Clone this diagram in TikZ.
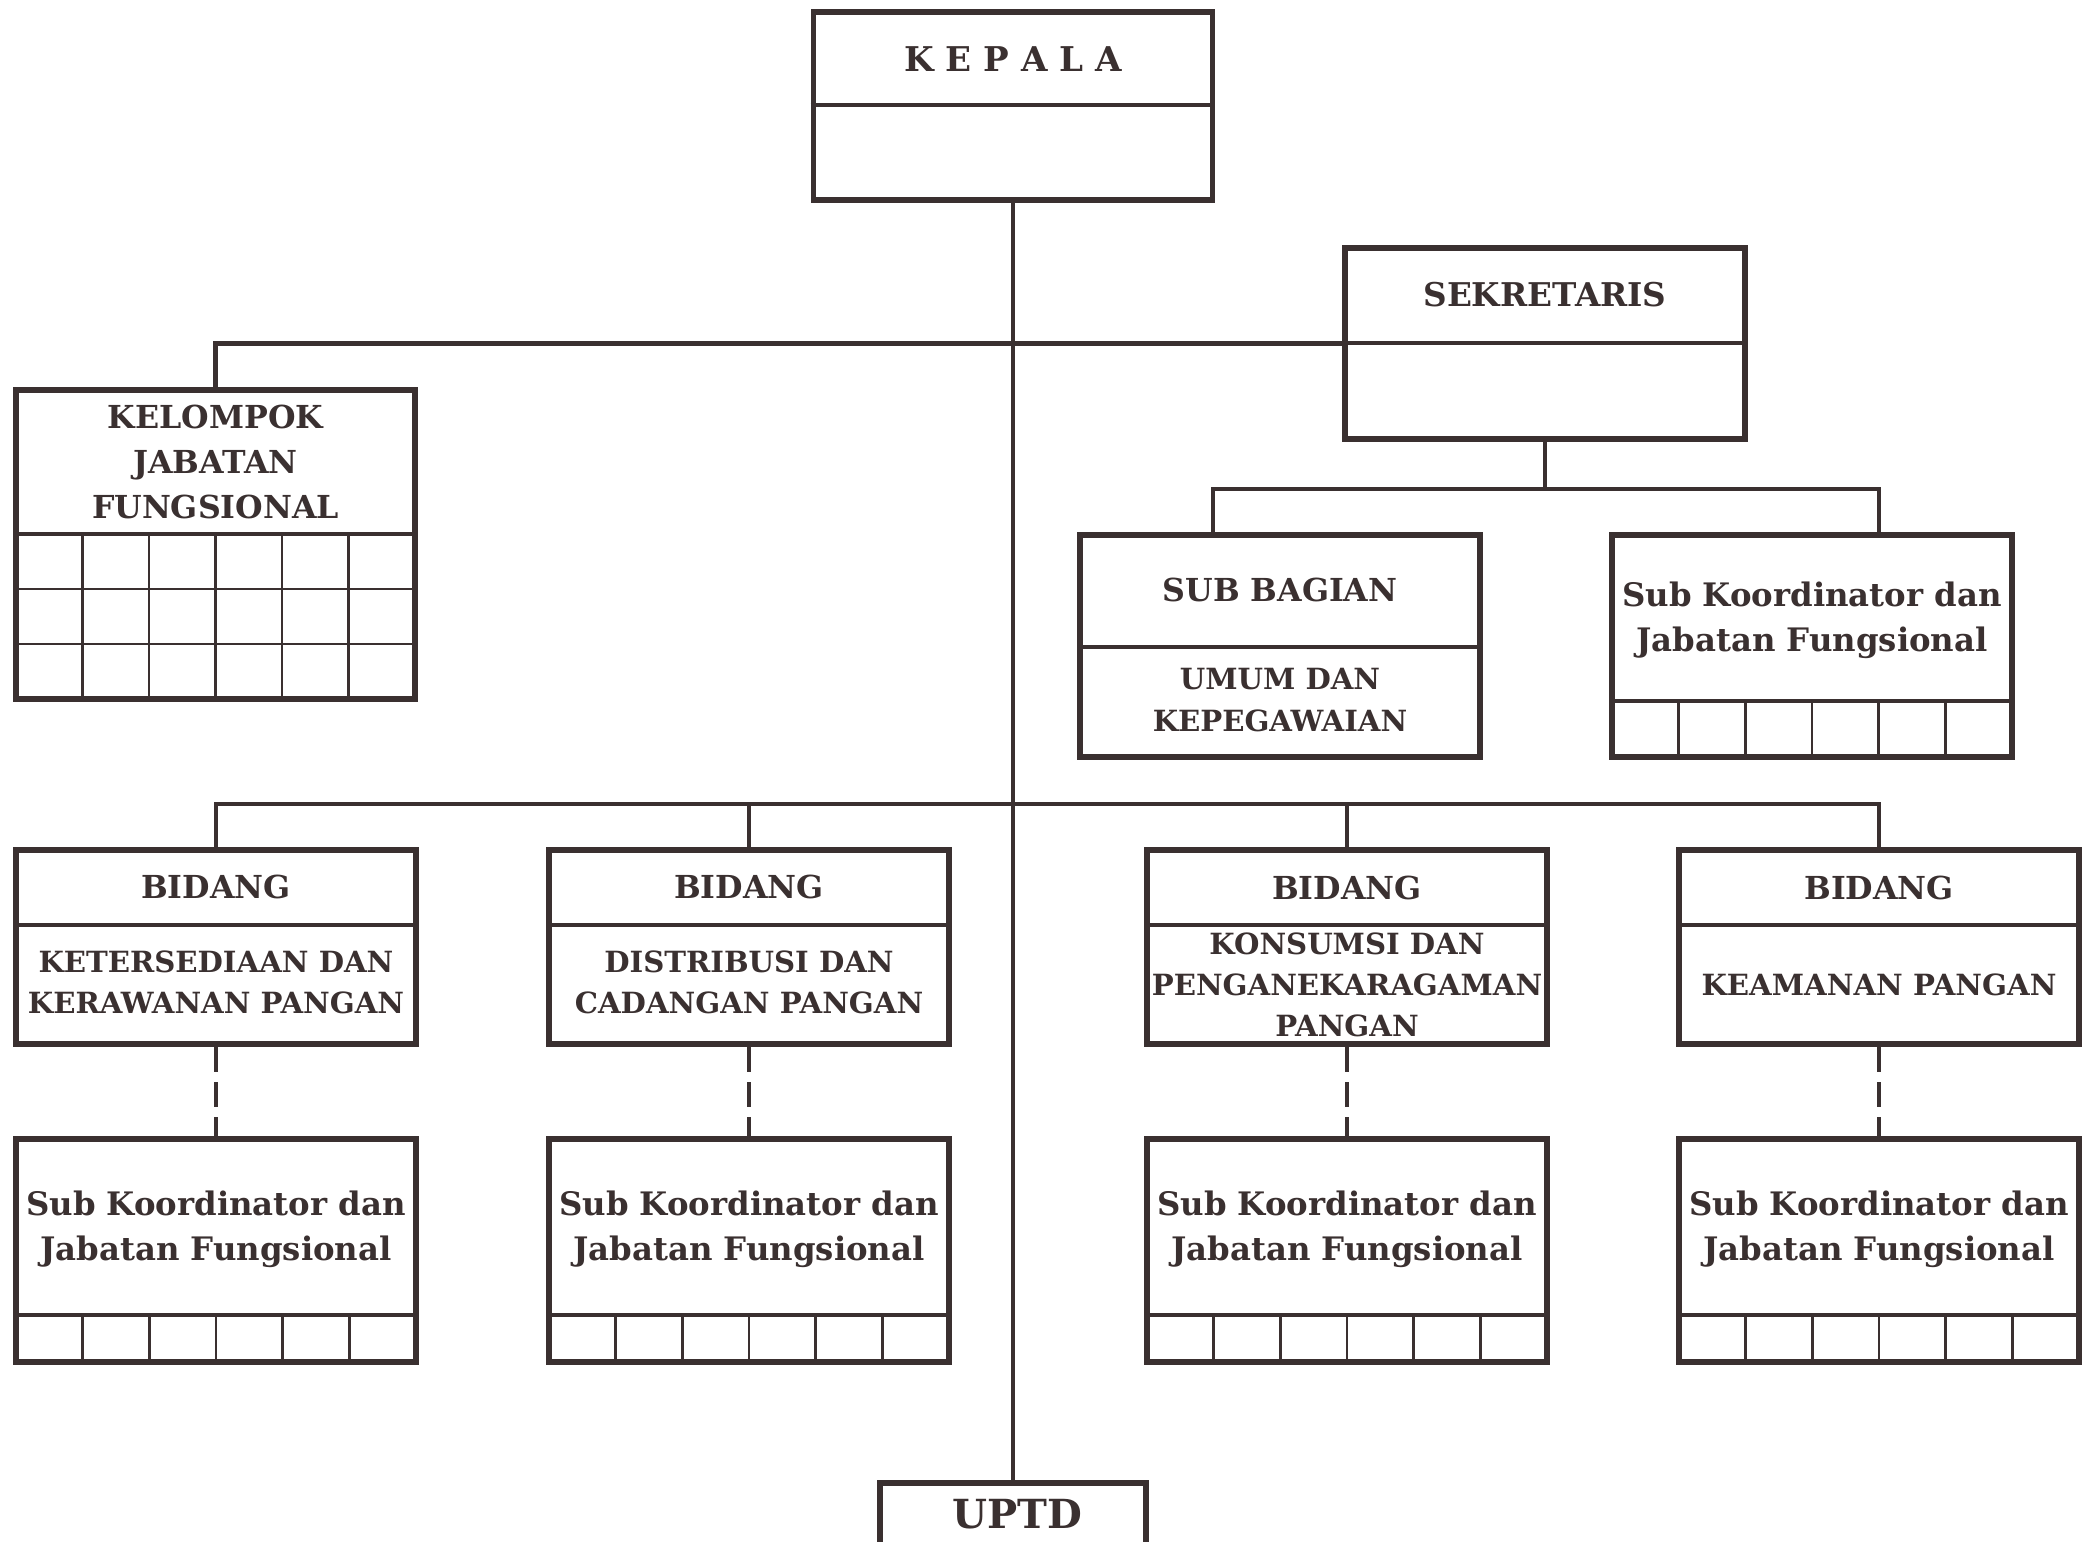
\documentclass[tikz,border=0pt]{standalone}
\usepackage{fontspec}
\setmainfont{DejaVu Serif}
\definecolor{ink}{HTML}{3A3030}

\begin{document}
\begin{tikzpicture}[x=0.01cm,y=-0.01cm]
    \tikzstyle{box}=[draw=ink, line width=1.6pt, minimum width=4cm, inner sep=0pt]
    \tikzstyle{conn}=[draw=ink, line width=1.4pt]
    \tikzstyle{divline}=[draw=ink, line width=1pt]
    \tikzstyle{cell}=[draw=ink, line width=0.7pt]
    \tikzstyle{head}=[text=ink, align=center, font=\bfseries\fontsize{9.0}{12.8}\selectfont]
    \tikzstyle{desc}=[text=ink, align=center, font=\bfseries\fontsize{8.3}{11.7}\selectfont]
    \tikzstyle{mixed}=[text=ink, align=center, font=\bfseries\fontsize{9.2}{12.8}\selectfont]

    \clip (0,0) rectangle (2093,1541);
    \fill[white] (0,0) rectangle (2093,1541);

    % boxes
    \node[box, minimum width=3.99cm, minimum height=1.88cm] (kepala) at (1013,106) {};
    \node[box, minimum height=1.91cm] (sek) at (1545,343.5) {};
    \node[box, minimum width=3.99cm, minimum height=3.09cm] (kjf) at (215.5,544.5) {};
    \node[box, minimum height=2.22cm] (subbag) at (1280,646) {};
    \node[box, minimum height=2.22cm] (sksek) at (1812,646) {};

    \node[box, minimum height=1.94cm] (bid1) at (216,947) {};
    \node[box, minimum height=1.94cm] (bid2) at (749,947) {};
    \node[box, minimum height=1.94cm] (bid3) at (1347,947) {};
    \node[box, minimum height=1.94cm] (bid4) at (1879,947) {};

    \node[box, minimum height=2.23cm] (sk1) at (216,1250.5) {};
    \node[box, minimum height=2.23cm] (sk2) at (749,1250.5) {};
    \node[box, minimum height=2.23cm] (sk3) at (1347,1250.5) {};
    \node[box, minimum height=2.23cm] (sk4) at (1879,1250.5) {};

    \node[box, minimum width=2.66cm, minimum height=0.9cm] (uptd) at (1013,1528) {};

    % dividers
    \draw[divline] (kepala.west |- 0,105) -- (kepala.east |- 0,105);
    \draw[divline] (sek.west |- 0,343) -- (sek.east |- 0,343);
    \draw[divline] (subbag.west |- 0,647) -- (subbag.east |- 0,647);
    \draw[divline] (sksek.west |- 0,701) -- (sksek.east |- 0,701);
    \draw[divline] (kjf.west |- 0,534) -- (kjf.east |- 0,534);
    \draw[cell] (kjf.west |- 0,589) -- (kjf.east |- 0,589);
    \draw[cell] (kjf.west |- 0,644) -- (kjf.east |- 0,644);
    \foreach \b in {bid1,bid2,bid3,bid4}
      \draw[divline] (\b.west |- 0,925) -- (\b.east |- 0,925);
    \foreach \b in {sk1,sk2,sk3,sk4}
      \draw[divline] (\b.west |- 0,1315) -- (\b.east |- 0,1315);

    % cells
    \foreach \i in {1,...,5} {
      \draw[cell] (16+\i*66.5,534) -- (16+\i*66.5,699);
      \draw[cell] (1612+\i*66.67,701) -- (1612+\i*66.67,757);
      \foreach \cx in {216,749,1347,1879}
        \draw[cell] (\cx-200+\i*66.67,1315) -- (\cx-200+\i*66.67,1362);
    }

    % texts
    \node[head, font=\bfseries\fontsize{9.7}{12}\selectfont] (kepalatxt) at (1013,59) {K E P A L A};
    \node[head, font=\bfseries\fontsize{9.3}{12}\selectfont] (sektxt) at (1545,295) {SEKRETARIS};
    \node[head] (kjftxt) at (215.5,462) {KELOMPOK\\JABATAN\\FUNGSIONAL};
    \node[head] (subbaghead) at (1280,590) {SUB BAGIAN};
    \node[desc] (subbagtxt) at (1280,700) {UMUM DAN\\KEPEGAWAIAN};
    \node[mixed] (sksektxt) at (1812,620) {Sub Koordinator dan\\Jabatan Fungsional};

    \node[head] (bid1head) at (216,887) {BIDANG};
    \node[head] (bid2head) at (749,887) {BIDANG};
    \node[head] (bid3head) at (1347,888) {BIDANG};
    \node[head] (bid4head) at (1879,888) {BIDANG};
    \node[desc] (bid1txt) at (216,982) {KETERSEDIAAN DAN\\KERAWANAN PANGAN};
    \node[desc] (bid2txt) at (749,982) {DISTRIBUSI DAN\\CADANGAN PANGAN};
    \node[desc] (bid3txt) at (1347,985) {KONSUMSI DAN\\PENGANEKARAGAMAN\\PANGAN};
    \node[desc] (bid4txt) at (1879,985) {KEAMANAN PANGAN};

    \node[mixed] (sk1txt) at (216,1229) {Sub Koordinator dan\\Jabatan Fungsional};
    \node[mixed] (sk2txt) at (749,1229) {Sub Koordinator dan\\Jabatan Fungsional};
    \node[mixed] (sk3txt) at (1347,1229) {Sub Koordinator dan\\Jabatan Fungsional};
    \node[mixed] (sk4txt) at (1879,1229) {Sub Koordinator dan\\Jabatan Fungsional};

    \node[head, font=\bfseries\fontsize{11.4}{14}\selectfont] (uptdtxt) at (1017,1514) {UPTD};

    % connectors
    \coordinate (sekfork) at (1545,489);
    \coordinate (midbus) at (1013,804);
    \draw[conn] (kepala) -- (uptd);
    \draw[conn] (kjf.north) |- (sek.west);
    \draw[conn] (sek.south) -- (sekfork);
    \draw[conn] (subbag.north -| 1213,0) |- (sekfork) -| (sksek.north -| 1879,0);
    \draw[conn] (bid1.north) |- (midbus) -| (bid4.north);
    \draw[conn] (bid2.north) -- (bid2.north |- midbus);
    \draw[conn] (bid3.north) -- (bid3.north |- midbus);
    \draw[conn, dash pattern=on 7pt off 3pt] (bid1) -- (sk1);
    \draw[conn, dash pattern=on 7pt off 3pt] (bid2) -- (sk2);
    \draw[conn, dash pattern=on 7pt off 3pt] (bid3) -- (sk3);
    \draw[conn, dash pattern=on 7pt off 3pt] (bid4) -- (sk4);
  \end{tikzpicture}
\end{document}
